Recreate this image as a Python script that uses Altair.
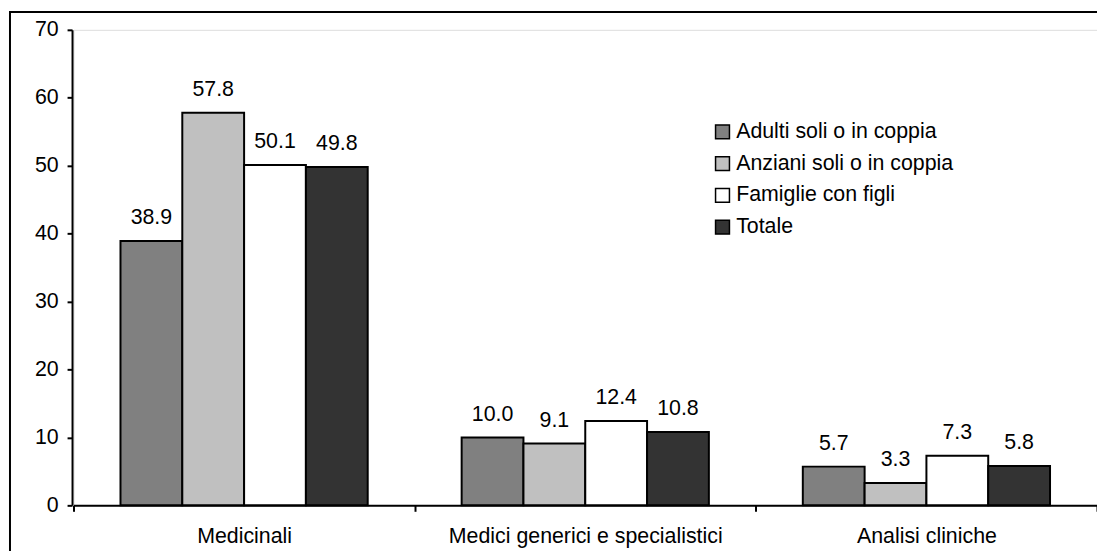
import altair as alt
import pandas as pd

categories = ["Medicinali", "Medici generici e specialistici", "Analisi cliniche"]
series = ["Adulti soli o in coppia", "Anziani soli o in coppia", "Famiglie con figli", "Totale"]
adulti = [38.9, 10.0, 5.7]
anziani = [57.8, 9.1, 3.3]
famiglie = [50.1, 12.4, 7.3]
totale = [49.8, 10.8, 5.8]
colors = ["#808080", "#c0c0c0", "#ffffff", "#333333"]
y_ticks = [0, 10, 20, 30, 40, 50, 60, 70]

rows = []
for s, vals in zip(series, [adulti, anziani, famiglie, totale]):
    for c, v in zip(categories, vals):
        rows.append({"categoria": c, "serie": s, "valore": v})
df = pd.DataFrame(rows)

W, H = 1031, 479
FONT = "Liberation Sans"
FS = 21.5

x_scale = alt.Scale(paddingInner=0, paddingOuter=0)
xo_scale = alt.Scale(paddingInner=0, paddingOuter=0.76)

x_enc = alt.X(
    "categoria:N",
    sort=categories,
    scale=x_scale,
    axis=alt.Axis(
        title=None, labelAngle=0, tickBand="extent", tickSize=6, tickWidth=2,
        domainWidth=2, domainColor="black", tickColor="black", labelLimit=0,
        labelFontSize=FS, labelFont=FONT, labelColor="black", labelPadding=14,
    ),
)
xo_enc = alt.XOffset("serie:N", sort=series, scale=xo_scale)
y_enc = alt.Y(
    "valore:Q",
    scale=alt.Scale(domain=[0, 70], nice=False),
    axis=alt.Axis(
        title=None, values=y_ticks, grid=False, tickSize=5, tickWidth=2, offset=1.5,
        domainWidth=2, domainColor="black", tickColor="black",
        labelFontSize=FS, labelFont=FONT, labelColor="black", labelPadding=9,
    ),
)

bars = alt.Chart(df).mark_bar(stroke="black", strokeWidth=2).encode(
    x=x_enc,
    xOffset=xo_enc,
    y=y_enc,
    fill=alt.Fill(
        "serie:N",
        sort=series,
        scale=alt.Scale(domain=series, range=colors),
        legend=alt.Legend(
            title=None, orient="none", legendX=643, legendY=92, padding=0,
            symbolType="square", symbolSize=196, symbolStrokeColor="black",
            symbolStrokeWidth=1.5, labelFontSize=FS, labelFont=FONT,
            labelColor="black", labelOffset=3, rowPadding=9, labelLimit=0,
        ),
    ),
)

labels = alt.Chart(df).mark_text(
    baseline="alphabetic", dy=-17, fontSize=FS, font=FONT, color="black"
).encode(
    x=alt.X("categoria:N", sort=categories),
    xOffset=alt.XOffset("serie:N", sort=series),
    y="valore:Q",
    text=alt.Text("valore:Q", format=".1f"),
)

frame = alt.Chart(pd.DataFrame({"f": [0]})).mark_rect(
    fill=None, stroke="black", strokeWidth=2, clip=False
).encode(
    x=alt.value(-64), x2=alt.value(W + 30), y=alt.value(-18), y2=alt.value(H + 80)
)

chart = alt.layer(frame, bars, labels).properties(
    width=W, height=H,
    autosize=alt.AutoSizeParams(type="none"),
    padding={"left": 66, "top": 20, "right": 0, "bottom": 44},
).configure_view(stroke=None).configure(background="white")

chart.save("out.html", embed_options={"renderer": "svg", "actions": False})
